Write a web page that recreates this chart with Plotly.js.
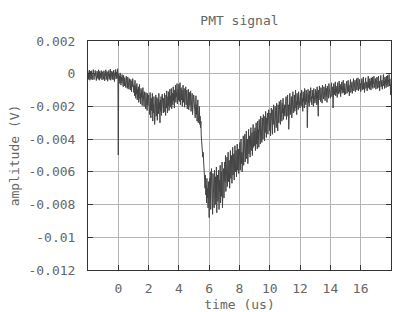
<!DOCTYPE html>
<html>
<head>
<meta charset="utf-8">
<script src="https://cdn.plot.ly/plotly-3.0.1.min.js"></script>
<style>
html,body{margin:0;padding:0;background:#fff;}
#chart{width:415px;height:312px;}
</style>
</head>
<body>
<div id="chart"></div>
<script>
// Sample spacing of the trace (microseconds)
const tStep = 0.025;

// Amplitude samples, in units of 10 microvolts (1e-5 V).
// One array per microsecond of the record; name gives the start time (us).
const seg_m2 = [20, -35, 5, -25, 22, -40, -8, 15, -32, 18, -15, -38, 10, -22, 25, -5, -36, 3, -14, 20, -30, 10, -42, -10, 16, -26, 6, -34, 24, -8, -40, 14, -18, 4, -30, 19, -12, -38, 12, -20];
const seg_m1 = [8, -34, 18, -22, -44, 5, -12, 24, -36, -6, 14, -28, -46, 10, -16, 20, -35, -2, -26, 28, -40, 2, -14, 16, -30, 8, -38, -8, 22, -20, -48, 6, -15, 26, -32, -3, 12, -28, 30, -12];
const seg_0  = [-497, 0, -45, -15, -60, 5, -40, -70, -20, -55, -5, -65, -30, -80, -10, -50, -75, -25, -60, -35, -85, -15, -55, -40, -90, -20, -65, -45, -95, -30, -70, -50, -100, -35, -60, -110, -45, -80, -30, -95];
const seg_1  = [-50, -115, -70, -135, -40, -105, -150, -75, -125, -60, -160, -95, -140, -80, -175, -110, -65, -155, -120, -185, -90, -145, -105, -195, -125, -85, -170, -135, -200, -110, -160, -130, -215, -115, -180, -140, -225, -120, -195, -150];
const seg_2  = [-130, -215, -160, -250, -115, -200, -270, -150, -225, -175, -120, -290, -185, -240, -140, -205, -310, -165, -230, -130, -260, -190, -145, -285, -200, -155, -245, -120, -215, -175, -300, -160, -230, -140, -255, -190, -125, -220, -170, -240];
const seg_3  = [-150, -235, -120, -200, -170, -255, -130, -210, -105, -185, -240, -140, -195, -110, -225, -160, -95, -205, -135, -180, -90, -215, -150, -120, -190, -80, -165, -130, -210, -100, -150, -70, -175, -115, -140, -60, -185, -120, -95, -160];
const seg_4  = [-65, -170, -110, -55, -190, -130, -85, -160, -100, -200, -120, -70, -175, -140, -90, -205, -125, -160, -80, -190, -145, -100, -215, -135, -170, -95, -220, -150, -115, -195, -160, -105, -230, -140, -185, -120, -250, -165, -200, -130];
const seg_5  = [-150, -240, -180, -270, -200, -135, -250, -190, -290, -210, -160, -300, -230, -280, -200, -310, -260, -330, -290, -380, -420, -390, -470, -510, -480, -560, -600, -580, -650, -700, -620, -740, -680, -790, -640, -760, -700, -820, -660, -780];
const seg_6  = [-880, -640, -760, -600, -830, -700, -580, -790, -660, -860, -610, -740, -680, -820, -590, -720, -800, -630, -760, -570, -850, -680, -620, -780, -700, -590, -830, -650, -720, -560, -790, -670, -600, -750, -540, -820, -640, -700, -580, -760];
const seg_7  = [-700, -540, -660, -500, -720, -590, -640, -510, -690, -570, -480, -660, -600, -530, -700, -560, -470, -640, -580, -500, -670, -540, -450, -620, -560, -490, -650, -520, -440, -600, -550, -470, -630, -500, -430, -590, -530, -460, -610, -480];
const seg_8  = [-560, -420, -590, -470, -400, -550, -480, -600, -430, -520, -380, -560, -450, -500, -370, -540, -430, -480, -350, -520, -460, -400, -550, -420, -340, -490, -440, -380, -510, -400, -330, -470, -420, -360, -500, -390, -310, -450, -410, -350];
const seg_9  = [-440, -330, -470, -370, -300, -430, -350, -460, -290, -400, -340, -450, -280, -380, -320, -430, -260, -370, -310, -420, -270, -350, -400, -250, -340, -300, -410, -260, -360, -230, -330, -390, -270, -310, -240, -370, -290, -220, -340, -280];
const seg_10 = [-350, -240, -380, -290, -210, -340, -260, -370, -220, -310, -190, -330, -270, -360, -200, -300, -240, -330, -180, -280, -230, -350, -190, -260, -300, -170, -250, -210, -310, -160, -270, -230, -290, -180, -240, -150, -280, -210, -250, -190];
const seg_11 = [-260, -170, -240, -140, -280, -200, -230, -130, -260, -190, -340, -160, -220, -120, -250, -180, -210, -140, -270, -170, -200, -110, -240, -160, -190, -130, -230, -150, -100, -210, -170, -250, -120, -190, -140, -220, -110, -180, -150, -200];
const seg_12 = [-210, -120, -190, -140, -100, -200, -150, -230, -110, -170, -130, -210, -90, -160, -130, -190, -100, -170, -120, -330, -150, -95, -180, -130, -200, -105, -160, -125, -85, -175, -140, -190, -100, -150, -120, -200, -90, -160, -130, -180];
const seg_13 = [-170, -95, -150, -110, -190, -80, -140, -120, -260, -100, -160, -75, -135, -105, -170, -85, -145, -115, -180, -70, -130, -100, -155, -80, -125, -95, -165, -65, -120, -140, -90, -175, -75, -115, -100, -150, -60, -125, -95, -140];
const seg_14 = [-150, -70, -125, -55, -140, -95, -80, -210, -110, -60, -130, -85, -100, -50, -135, -75, -115, -90, -145, -55, -105, -70, -125, -45, -95, -115, -65, -140, -80, -100, -50, -120, -70, -90, -40, -115, -85, -130, -60, -100];
const seg_15 = [-125, -60, -105, -45, -120, -80, -95, -40, -110, -70, -135, -55, -90, -35, -115, -75, -100, -50, -120, -65, -85, -30, -105, -60, -95, -40, -110, -70, -80, -30, -100, -55, -90, -25, -105, -65, -75, -35, -95, -60];
const seg_16 = [-110, -45, -90, -30, -100, -60, -75, -20, -95, -55, -115, -40, -80, -25, -90, -65, -50, -105, -35, -75, -15, -85, -55, -95, -30, -70, -45, -100, -25, -65, -80, -20, -90, -50, -60, -15, -85, -40, -70, -30];
const seg_17 = [-95, -40, -75, -20, -90, -50, -65, -15, -85, -45, -105, -30, -70, -10, -80, -55, -40, -95, -25, -65, -5, -75, -45, -90, -20, -60, -35, -85, -15, -55, -70, -10, -80, -40, -50, -5, -75, -30, -60, -130, -60];

// Axis ticks
const xTickVals = [0, 2, 4, 6, 8, 10, 12, 14, 16];
const yTickVals = [0.002, 0, -0.002, -0.004, -0.006, -0.008, -0.01, -0.012];
const yTickText = ["0.002", "0", "-0.002", "-0.004", "-0.006", "-0.008", "-0.01", "-0.012"];

const segments = [
  [-2, seg_m2], [-1, seg_m1], [0, seg_0], [1, seg_1], [2, seg_2], [3, seg_3], [4, seg_4],
  [5, seg_5], [6, seg_6], [7, seg_7], [8, seg_8], [9, seg_9], [10, seg_10], [11, seg_11],
  [12, seg_12], [13, seg_13], [14, seg_14], [15, seg_15], [16, seg_16], [17, seg_17]
];
const time = [], amp = [];
segments.forEach(([t0, vals]) => {
  vals.forEach((v, j) => { time.push(+(t0 + j * tStep).toFixed(4)); amp.push(v * 1e-5); });
});

const font = {family: "DejaVu Sans Mono, monospace", size: 13, color: "#666"};

Plotly.newPlot("chart", [{
  x: time, y: amp, type: "scatter", mode: "lines",
  line: {color: "#444", width: 1},
  hoverinfo: "skip"
}], {
  width: 415, height: 312,
  margin: {l: 88, r: 24, t: 41, b: 42},
  paper_bgcolor: "#fff", plot_bgcolor: "#fff",
  showlegend: false,
  font: font,
  title: {text: "PMT signal", x: 0.577, xanchor: "center", y: 0.935, yanchor: "middle", font: font},
  xaxis: {
    range: [-2, 18], tickmode: "array", tickvals: xTickVals,
    ticks: "inside", ticklen: 5, tickcolor: "#333", mirror: "ticks",
    showline: true, linecolor: "#333", linewidth: 1,
    showgrid: true, gridcolor: "#b4b4b4", gridwidth: 1, zeroline: false,
    tickfont: font, ticklabelstandoff: 6,
    title: {text: "time (us)", font: font, standoff: 6}
  },
  yaxis: {
    range: [-0.012, 0.002], tickmode: "array", tickvals: yTickVals, ticktext: yTickText,
    ticks: "inside", ticklen: 5, tickcolor: "#333", mirror: "ticks",
    showline: true, linecolor: "#333", linewidth: 1,
    showgrid: true, gridcolor: "#b4b4b4", gridwidth: 1, zeroline: false,
    tickfont: font, ticklabelstandoff: 9,
    title: {text: "amplitude (V)", font: font, standoff: 5}
  }
}, {displayModeBar: false, staticPlot: true});
</script>
</body>
</html>
